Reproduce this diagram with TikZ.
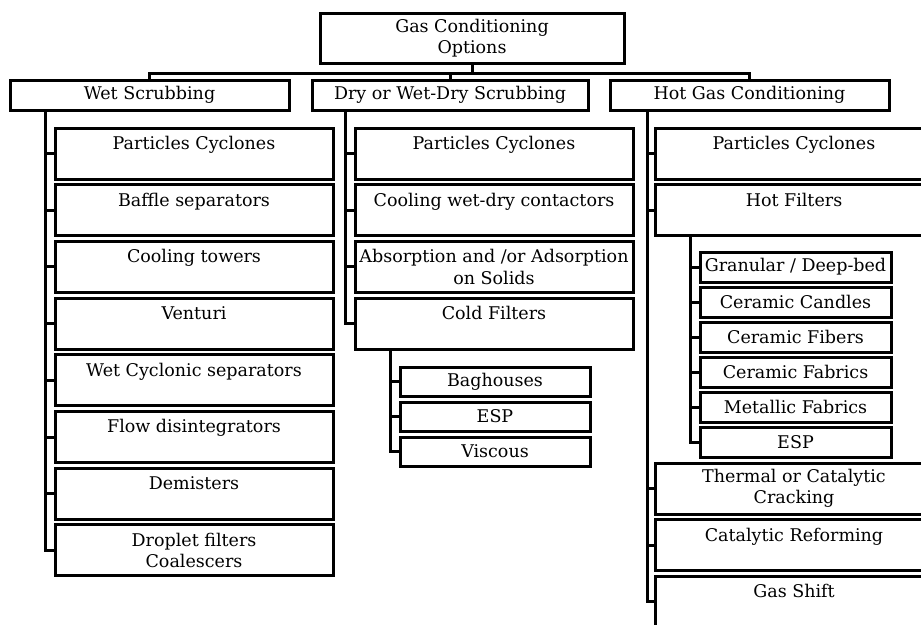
\documentclass[tikz,border=0pt]{standalone}
\usepackage{fontspec}
\setmainfont{DejaVu Serif}
\usepackage{tikz}
\usetikzlibrary{positioning,calc}

\begin{document}
\begin{tikzpicture}[x=1pt, y=-1pt,
    every node/.style={font=\fontsize{17.5}{21.5}\selectfont},
    box/.style={draw, line width=3pt, align=center, inner sep=0pt},
    headbox/.style={box, minimum width=279pt, minimum height=30pt},
    itembox/.style={box, minimum width=278pt, minimum height=51pt},
    subbox/.style={box, minimum width=191pt, minimum height=29pt},
    wire/.style={line width=3pt}]
  \useasboundingbox (0,0) rectangle (921,624);
  \clip (0,0) rectangle (921,624);

  % root and the three branches
  \node[box, minimum width=304pt, minimum height=50pt] (gco) at (472,38)
       {Gas Conditioning\\Options};
  \node[headbox] (wet) at (149.5,95) {Wet Scrubbing};
  \node[headbox, minimum width=276pt] (dry) at (450,95) {Dry or Wet-Dry Scrubbing};
  \node[headbox] (hot) at (749.5,95) {Hot Gas Conditioning};
  \draw[wire] (gco.south) -- ++(0,9) coordinate (bus);
  \draw[wire] (wet.north) |- (bus) -| (hot.north);
  \draw[wire] (dry.north) -- (dry.north |- bus);

  % trunk lines
  \coordinate (wt) at (45,0);
  \coordinate (dt) at (345,0);
  \coordinate (ht) at (647,0);
  \coordinate (ct) at (390,0);
  \coordinate (ft) at (690,0);

  % wet scrubbing
  \foreach \n/\t [count=\i from 0] in {wpc/Particles Cyclones\\~,
      wbs/Baffle separators\\~, wct/Cooling towers\\~, wve/Venturi\\~,
      wcs/Wet Cyclonic separators\\~, wfd/Flow disintegrators\\~,
      wde/Demisters\\~, wdf/Droplet filters\\Coalescers}{
    \pgfmathsetmacro{\cy}{153.5+56.7*\i}
    \node[itembox] (\n) at (194,\cy) {\t};
    \draw[wire] (\n.west) -- (\n.west -| wt);}
  \draw[wire] (wet.south -| wt) |- (wdf.west);

  % dry or wet-dry scrubbing
  \foreach \n/\t [count=\i from 0] in {dpc/Particles Cyclones\\~,
      dcw/Cooling wet-dry contactors\\~,
      das/{Absorption and /or Adsorption\\on Solids}, dcf/Cold Filters\\~}{
    \pgfmathsetmacro{\cy}{153.5+56.7*\i}
    \node[itembox] (\n) at (494,\cy) {\t};
    \draw[wire] (\n.west) -- (\n.west -| dt);}
  \draw[wire] (dry.south -| dt) |- (dcf.west);

  \foreach \n/\t [count=\i from 0] in {cbh/Baghouses, cesp/ESP, cvi/Viscous}{
    \pgfmathsetmacro{\cy}{381.5+35*\i}
    \node[subbox, minimum width=190pt] (\n) at (495,\cy) {\t};
    \draw[wire] (\n.west) -- (\n.west -| ct);}
  \draw[wire] (dcf.south -| ct) |- (cvi.west);

  % hot gas conditioning
  \foreach \n/\cy/\t in {hpc/153.5/Particles Cyclones\\~,
      hhf/210.2/Hot Filters\\~, htc/488.5/Thermal or Catalytic\\Cracking,
      hcr/545.2/Catalytic Reforming\\~, hgs/601.9/Gas Shift\\~}{
    \node[itembox] (\n) at (794,\cy) {\t};
    \draw[wire] (\n.west) -- (\n.west -| ht);}
  \draw[wire] (hot.south -| ht) |- (hgs.west);

  \foreach \n/\t [count=\i from 0] in {fgd/{Granular / Deep-bed},
      fcc/Ceramic Candles, fcf/Ceramic Fibers, fcb/Ceramic Fabrics,
      fmf/Metallic Fabrics, fesp/ESP}{
    \pgfmathsetmacro{\cy}{267+35*\i}
    \node[subbox, minimum height=30pt] (\n) at (795.5,\cy) {\t};
    \draw[wire] (\n.west) -- (\n.west -| ft);}
  \draw[wire] (hhf.south -| ft) |- (fesp.west);
\end{tikzpicture}
\end{document}
